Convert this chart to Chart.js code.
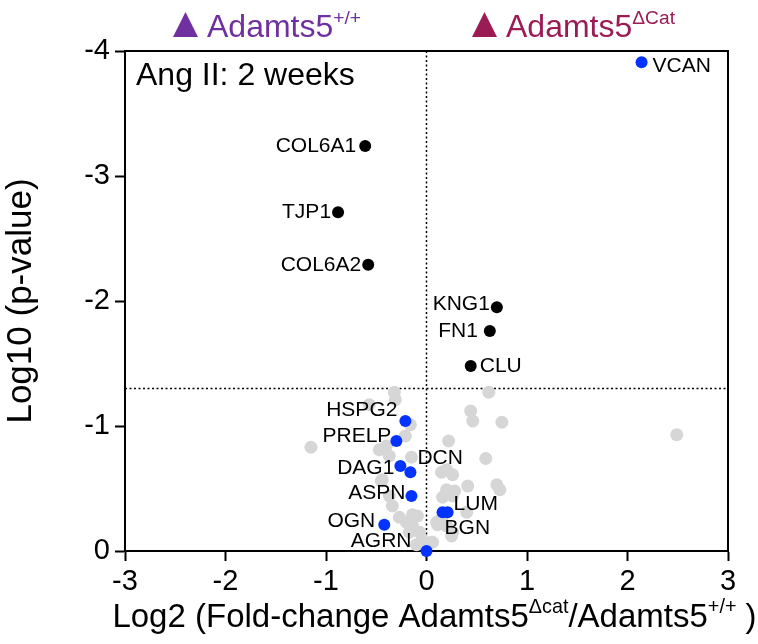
<!DOCTYPE html>
<html>
<head>
<meta charset="utf-8">
<script src="https://cdn.jsdelivr.net/npm/chart.js@4"></script>
<style>
  body { margin: 0; background: #fff; }
  #wrap { width: 758px; height: 644px; }
</style>
</head>
<body>
<div id="wrap"><canvas id="chart" width="758" height="644"></canvas></div>
<script>
// ---- data ----
const greyX = [-0.32, -0.31, -0.57, 0.62, 0.44, 0.46, 0.75, -0.16, -1.15, -0.21, 0.22, -0.47, -0.40, -0.37,
               -0.15, 0.59, 0.20, 0.26, -0.44, 0.41, 0.70, 0.73, 0.20, 0.16, 0.26, -0.37, -0.34, -0.14,
               -0.09, -0.20, 0.10, -0.14, -0.07, -0.04, 0.06, 0.20, 0.26, 0.16, 0.40, -0.17, -0.10, 2.49,
               0.15, 0.28, 0.11, 0.25, 0.05, -0.27, -0.45];
const greyY = [-1.27, -1.21, -1.17, -1.27, -1.12, -1.04, -1.03, -1.01, -0.83, -0.92, -0.88, -0.81, -0.84, -0.76,
               -0.75, -0.74, -0.65, -0.61, -0.57, -0.52, -0.53, -0.49, -0.49, -0.43, -0.44, -0.44, -0.36, -0.29,
               -0.28, -0.23, -0.23, -0.20, -0.15, -0.09, -0.07, -0.20, -0.15, -0.28, -0.31, -0.15, -0.05, -0.93,
               -0.63, -0.48, -0.21, -0.12, -0.07, -0.27, -0.56];

const blackLabels = ["COL6A1", "TJP1", "COL6A2", "KNG1", "FN1", "CLU"];
const blackX = [-0.61, -0.88, -0.58, 0.70, 0.63, 0.44];
const blackY = [-3.24, -2.71, -2.29, -1.95, -1.76, -1.48];

const blueLabels = ["VCAN", "HSPG2", "PRELP", "DAG1", "DCN", "ASPN", "LUM", "BGN", "OGN", "AGRN"];
const blueX = [2.14, -0.21, -0.30, -0.26, -0.16, -0.15, 0.21, 0.16, -0.42, 0.00];
const blueY = [-3.91, -1.04, -0.88, -0.68, -0.63, -0.44, -0.31, -0.31, -0.21, 0.00];

const pThreshold = -1.3;   // log10(0.05)
const foldZero = 0;

const xTickLabels = ["-3", "-2", "-1", "0", "1", "2", "3"];
const yTickLabels = ["-4", "-3", "-2", "-1", "0"];

// label placement relative to each dot (style, not data)
const blackLabelStyle = [
    { dx: -9, dy: 0, align: "right" },
    { dx: -7, dy: 0, align: "right" },
    { dx: -7, dy: 0, align: "right" },
    { dx: -7, dy: -3, align: "right" },
    { dx: -12, dy: 0, align: "right" },
    { dx: 9, dy: 0, align: "left" }
];
const blueLabelStyle = [
    { dx: 11, dy: 4, align: "left" },
    { dx: -8, dy: -11, align: "right" },
    { dx: -5, dy: -5, align: "right" },
    { dx: -6, dy: 2, align: "right" },
    { dx: 7, dy: -14, align: "left" },
    { dx: -6, dy: -3, align: "right" },
    { dx: 6, dy: -8, align: "left" },
    { dx: 2, dy: 16, align: "left" },
    { dx: -9, dy: -4, align: "right" },
    { dx: -15, dy: -10, align: "right" }
];

const FONT = "'Liberation Sans', Arial, Helvetica, sans-serif";

function toPoints(xs, ys) {
    const ret = [];
    for (let i = 0; i < xs.length; i++) {
        ret.push({ x: xs[i], y: ys[i] });
    }
    return ret;
}

// draws runs of normal / superscript text starting at x, returns end x
function drawRuns(ctx, runs, x, y, size) {
    for (const run of runs) {
        const s = run.sup ? size * 0.6 : size;
        ctx.font = s + "px " + FONT;
        ctx.fillText(run.text, x, run.sup ? y - size * 0.42 : y);
        x += ctx.measureText(run.text).width;
    }
    return x;
}

function runsWidth(ctx, runs, size) {
    let w = 0;
    for (const run of runs) {
        ctx.font = (run.sup ? size * 0.6 : size) + "px " + FONT;
        w += ctx.measureText(run.text).width;
    }
    return w;
}

const pointLabels = {
    id: "pointLabels",
    afterDatasetsDraw(chart) {
        const ctx = chart.ctx;
        ctx.save();
        ctx.fillStyle = "#000";
        ctx.font = "21px " + FONT;
        ctx.textBaseline = "middle";
        chart.data.datasets.forEach((ds, i) => {
            if (!ds.pointNames) return;
            const meta = chart.getDatasetMeta(i);
            meta.data.forEach((pt, j) => {
                const st = ds.labelStyle[j];
                ctx.textAlign = st.align;
                ctx.fillText(ds.pointNames[j], pt.x + st.dx, pt.y + st.dy);
            });
        });
        ctx.restore();
    }
};

const decorations = {
    id: "decorations",
    beforeDatasetsDraw(chart) {
        const ctx = chart.ctx;
        const a = chart.chartArea;
        ctx.save();
        ctx.strokeStyle = "#000";
        ctx.lineWidth = 2;
        ctx.strokeRect(a.left, a.top, a.right - a.left, a.bottom - a.top);
        ctx.restore();
    },
    afterDraw(chart) {
        const ctx = chart.ctx;
        const a = chart.chartArea;
        ctx.save();
        ctx.textBaseline = "alphabetic";
        ctx.textAlign = "left";

        // panel note
        ctx.fillStyle = "#000";
        ctx.font = "32px " + FONT;
        ctx.fillText("Ang II: 2 weeks", a.left + 11, a.top + 34);

        // group key on top
        const keys = [
            { color: "#7030A0", runs: [{ text: "Adamts5" }, { text: "+/+", sup: true }], x: 173 },
            { color: "#9B1B55", runs: [{ text: "Adamts5" }, { text: "\u0394Cat", sup: true }], x: 472 }
        ];
        for (const k of keys) {
            ctx.fillStyle = k.color;
            ctx.beginPath();
            ctx.moveTo(k.x, 37);
            ctx.lineTo(k.x + 25, 37);
            ctx.lineTo(k.x + 12.5, 12);
            ctx.closePath();
            ctx.fill();
            drawRuns(ctx, k.runs, k.x + 34, 37, 32);
        }

        // x axis title
        ctx.fillStyle = "#000";
        const xt = [
            { text: "Log2 (Fold-change Adamts5" }, { text: "\u0394cat", sup: true },
            { text: "/Adamts5" }, { text: "+/+", sup: true }, { text: " )" }
        ];
        const w = runsWidth(ctx, xt, 33);
        drawRuns(ctx, xt, (a.left + a.right) / 2 + 8 - w / 2, 627, 33);
        ctx.restore();
    }
};

const ctx = document.getElementById("chart");

new Chart(ctx, {
    type: "scatter",
    plugins: [pointLabels, decorations],
    data: {
        datasets: [
            {
                data: toPoints(blueX, blueY),
                pointNames: blueLabels,
                labelStyle: blueLabelStyle,
                backgroundColor: "#0433FF",
                borderWidth: 0,
                pointRadius: 6,
                clip: false,
                order: 0
            },
            {
                data: toPoints(blackX, blackY),
                pointNames: blackLabels,
                labelStyle: blackLabelStyle,
                backgroundColor: "#000",
                borderWidth: 0,
                pointRadius: 6,
                clip: false,
                order: 1
            },
            {
                data: toPoints(greyX, greyY),
                backgroundColor: "#D6D6D6",
                borderWidth: 0,
                pointRadius: 6.5,
                clip: false,
                order: 2
            },
            {
                type: "line",
                data: [{ x: -3, y: pThreshold }, { x: 3, y: pThreshold }],
                borderColor: "#000",
                borderWidth: 1.5,
                borderDash: [2, 2.5],
                pointRadius: 0,
                order: 3
            },
            {
                type: "line",
                data: [{ x: foldZero, y: -4 }, { x: foldZero, y: 0 }],
                borderColor: "#000",
                borderWidth: 1.5,
                borderDash: [2, 2.5],
                pointRadius: 0,
                order: 3
            }
        ]
    },
    options: {
        responsive: false,
        animation: false,
        layout: { padding: { left: 0, top: 51, right: 30, bottom: 0 } },
        plugins: {
            legend: { display: false },
            tooltip: { enabled: false }
        },
        scales: {
            x: {
                type: "linear",
                min: -3,
                max: 3,
                ticks: {
                    stepSize: 1,
                    padding: 4,
                    color: "#000",
                    font: { family: FONT, size: 29 },
                    callback: (v) => xTickLabels[v + 3]
                },
                grid: { drawOnChartArea: false, drawTicks: true, tickLength: 10, tickWidth: 2, color: "#000" },
                border: { display: true, color: "#000", width: 2 },
                afterFit: (scale) => { scale.height = 93; }
            },
            y: {
                type: "linear",
                min: -4,
                max: 0,
                reverse: true,
                ticks: {
                    stepSize: 1,
                    padding: 5,
                    color: "#000",
                    font: { family: FONT, size: 29 },
                    callback: (v) => yTickLabels[v + 4]
                },
                grid: { drawOnChartArea: false, drawTicks: true, tickLength: 10, tickWidth: 2, color: "#000" },
                border: { display: true, color: "#000", width: 2 },
                title: {
                    display: true,
                    text: "Log10 (p-value)",
                    color: "#000",
                    font: { family: FONT, size: 35 },
                    padding: { top: 0, bottom: 4 }
                },
                afterFit: (scale) => { scale.width = 125; }
            }
        }
    }
});
</script>
</body>
</html>
